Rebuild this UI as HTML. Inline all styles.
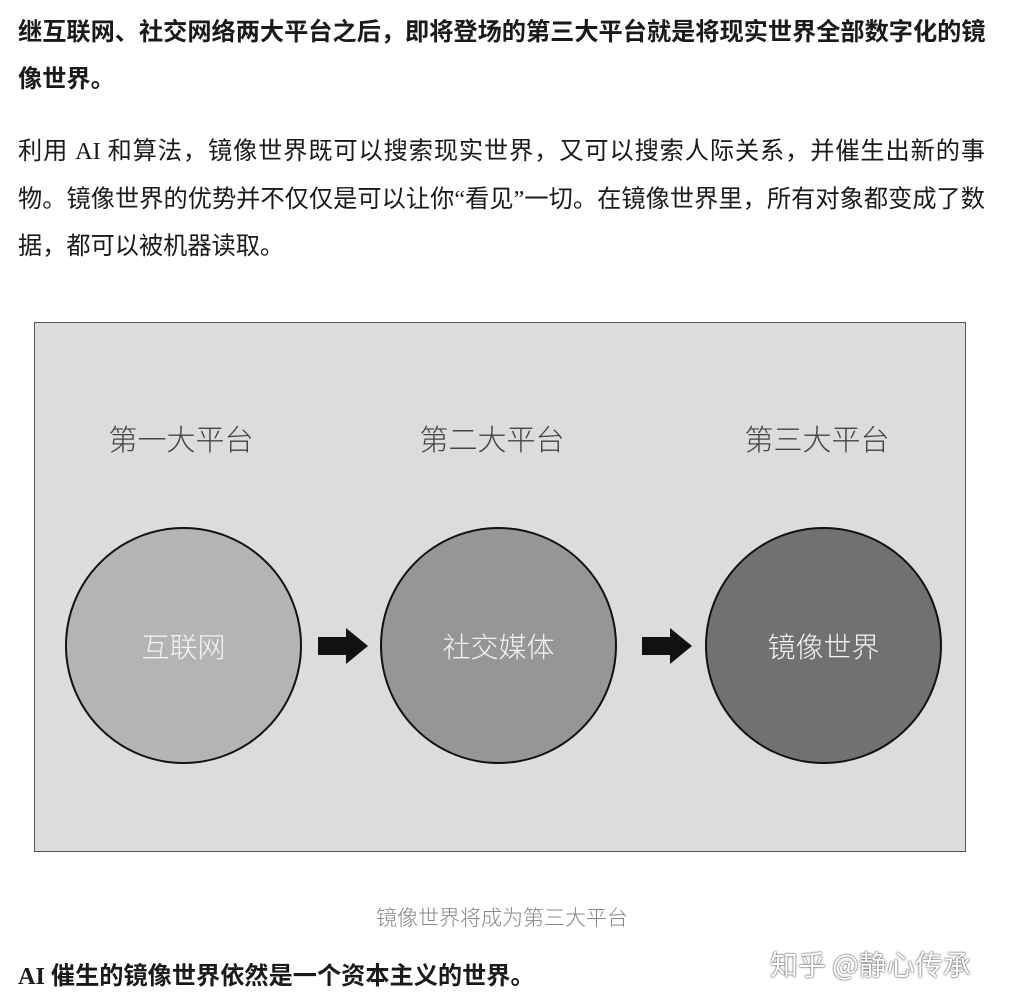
<!DOCTYPE html>
<html><head><meta charset="utf-8"><style>
body{margin:0;width:1010px;height:1008px;background:#fff;position:relative;overflow:hidden;font-family:"Liberation Serif","Noto Sans CJK SC",sans-serif;color:#1a1a1a}
.t{position:absolute;left:18px;font-size:24.2px;line-height:48px;white-space:nowrap}
.j{width:967px;text-align:justify;text-align-last:justify;white-space:normal}
.b{font-weight:bold}
.box{position:absolute;left:34px;top:322px;width:930px;height:528px;background:#dcdcdc;border:1px solid #555}
.h{position:absolute;font-size:29px;color:#444;width:200px;text-align:center;top:417px;font-family:"Noto Sans CJK SC",sans-serif;font-weight:300}
.c{position:absolute;width:237px;height:237px;border-radius:50%;border:2px solid #111;box-sizing:border-box;top:527px;display:flex;align-items:center;justify-content:center;color:#f4f4f4;font-size:28px;font-family:"Noto Sans CJK SC",sans-serif;font-weight:300}
</style></head><body>
<div class="t b" style="top:9px">继互联网、社交网络两大平台之后，即将登场的第三大平台就是将现实世界全部数字化的镜</div>
<div class="t b" style="top:56px">像世界。</div>
<div class="t j" style="top:128px">利用 AI 和算法，镜像世界既可以搜索现实世界，又可以搜索人际关系，并催生出新的事</div>
<div class="t j" style="top:176px">物。镜像世界的优势并不仅仅是可以让你“看见”一切。在镜像世界里，所有对象都变成了数</div>
<div class="t" style="top:223px">据，都可以被机器读取。</div>
<div class="box"></div>
<div class="h" style="left:81px">第一大平台</div>
<div class="h" style="left:392px">第二大平台</div>
<div class="h" style="left:717px">第三大平台</div>
<div class="c" style="left:65px;background:#b4b4b4">互联网</div>
<div class="c" style="left:380px;background:#969696">社交媒体</div>
<div class="c" style="left:705px;background:#717171">镜像世界</div>
<svg style="position:absolute;left:0;top:0" width="1010" height="1008">
<polygon points="318,637 346,637 346,628 368,646 346,664 346,655 318,655" fill="#111"/>
<polygon points="642,637 670,637 670,628 692,646 670,664 670,655 642,655" fill="#111"/>
</svg>
<div style="position:absolute;top:902px;left:0;width:1004px;text-align:center;font-size:21px;color:#888;font-family:'Noto Sans CJK SC',sans-serif;font-weight:300">镜像世界将成为第三大平台</div>
<div class="t b" style="top:953px">AI 催生的镜像世界依然是一个资本主义的世界。</div>
<div style="position:absolute;left:770px;top:944px;font-size:28px;color:#fff;text-shadow:0 0 2px #555,0 0 1px #333;font-family:'Noto Sans CJK SC',sans-serif;white-space:nowrap">知乎 @静心传承</div>
</body></html>
